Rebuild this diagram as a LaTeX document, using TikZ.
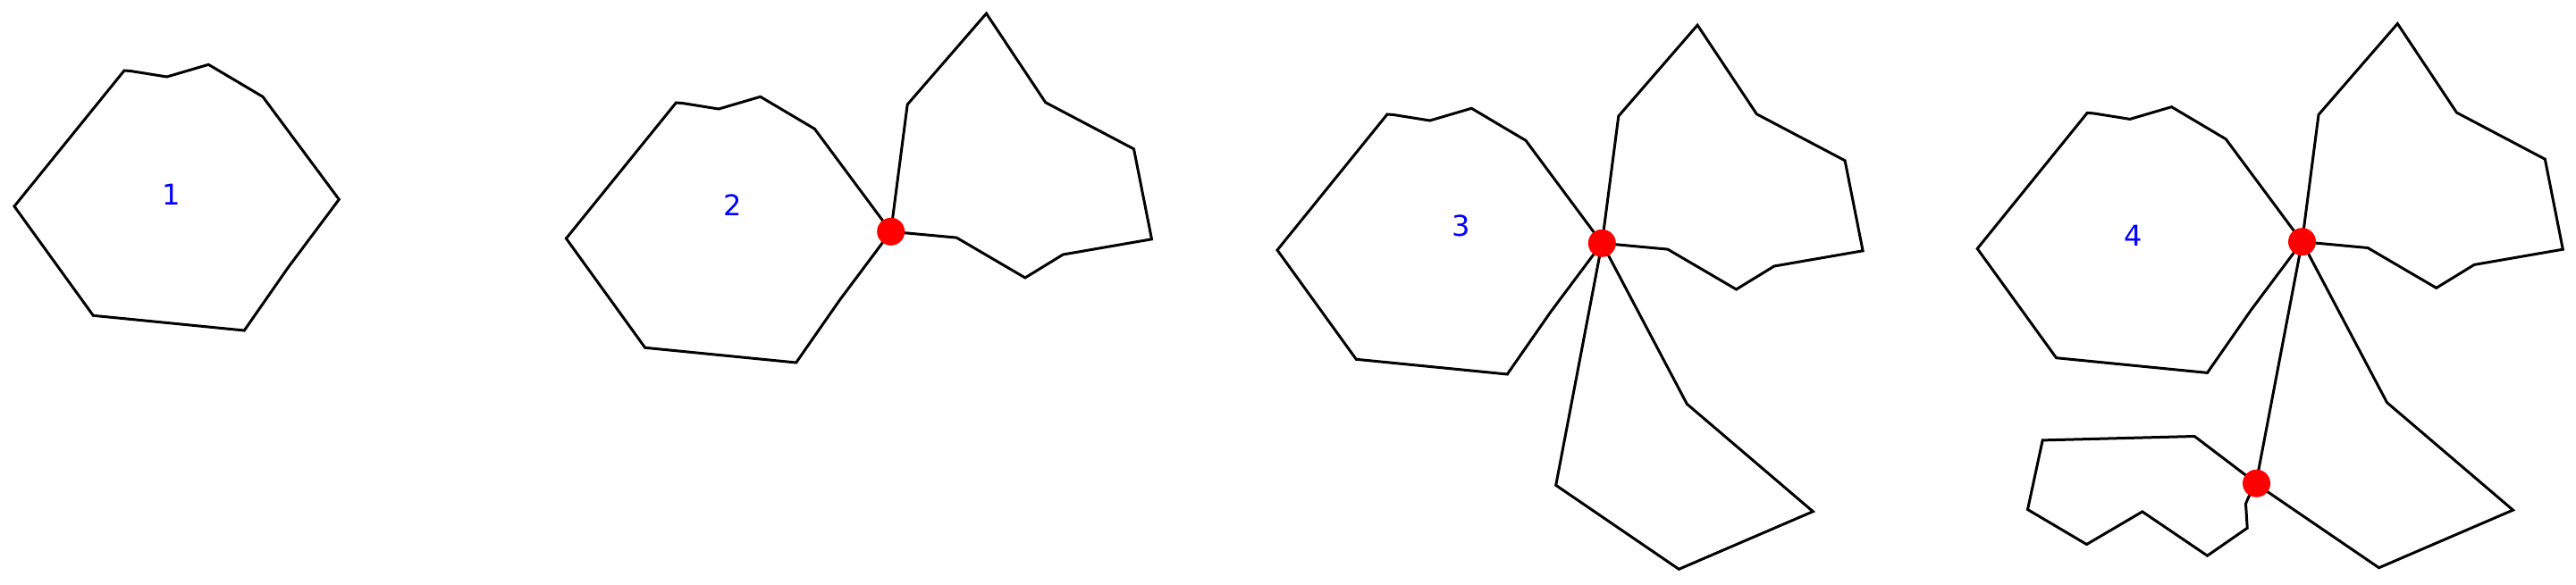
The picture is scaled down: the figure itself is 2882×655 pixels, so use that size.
\documentclass[tikz,border=0pt]{standalone}
\usepackage{fontspec}
\setmainfont{DejaVu Sans}
\usetikzlibrary{positioning}

\tikzset{
  cell/.style={draw, line width=3pt, line join=miter},
  hinge/.style={circle, fill=red, inner sep=0pt, minimum size=31pt},
  tag/.style={text=blue, inner sep=0pt, font=\fontsize{32}{38}\selectfont},
  % the shapes, all given relative to their hinge vertex
  hexcell/.pic={\draw[cell] (0,0) -- (-57.3,76.7) -- (-106,146.7) -- (-275,130) -- (-363.3,7.7) -- (-240.3,-144.3) -- (-233.3,-143.8) -- (-192.6,-137.3) -- (-146,-151) -- (-85.3,-115) -- cycle;},
  wingcell/.pic={\draw[cell] (0,0) -- (18.5,-142.3) -- (106.8,-244.2) -- (173,-144.6) -- (271.8,-92.5) -- (291.8,8.5) -- (192.6,25.7) -- (150.2,51.7) -- (73.5,6.8) -- cycle;},
  tailcell/.pic={\draw[cell] (0,0) -- (95,180) -- (236,300.4) -- (86,365) -- (-51.6,271) -- cycle;},
  footcell/.pic={\draw[cell] (0,0) -- (-69.3,-52.7) -- (-239.3,-48.3) -- (-256,29.3) -- (-190,68.3) -- (-127.7,31.7) -- (-55,81) -- (-10.3,50) -- (-12,22.7) -- (-8.7,15) -- cycle;}
}

\begin{document}
\begin{tikzpicture}[x=1pt, y=-1pt]
  \useasboundingbox (0,0) rectangle (2882,655);
  \coordinate (h1) at (379.3,223.3);
  \coordinate (h2) at (996.7,259.3);
  \coordinate (h3) at (1792.3,272.3);
  \coordinate (h4) at (2575.5,270.7);
  \coordinate (h5) at (2524.5,541.2);

  % step 1
  \pic at (h1) {hexcell};
  \node[tag] (t1) at (191.5,218) {1};

  % step 2
  \pic at (h2) {hexcell};
  \pic at (h2) {wingcell};
  \node[tag] (t2) at (820,230) {2};
  \node[hinge] (d2) at (h2) {};

  % step 3
  \pic at (h3) {hexcell};
  \pic at (h3) {wingcell};
  \pic at (h3) {tailcell};
  \node[tag] (t3) at (1635,253) {3};
  \node[hinge] (d3) at (h3) {};

  % step 4
  \pic at (h4) {hexcell};
  \pic at (h4) {wingcell};
  \pic at (h4) {tailcell};
  \pic at (h5) {footcell};
  \node[tag] (t4) at (2386.7,264.3) {4};
  \node[hinge] (d4) at (h4) {};
  \node[hinge] (d5) at (h5) {};
\end{tikzpicture}
\end{document}
